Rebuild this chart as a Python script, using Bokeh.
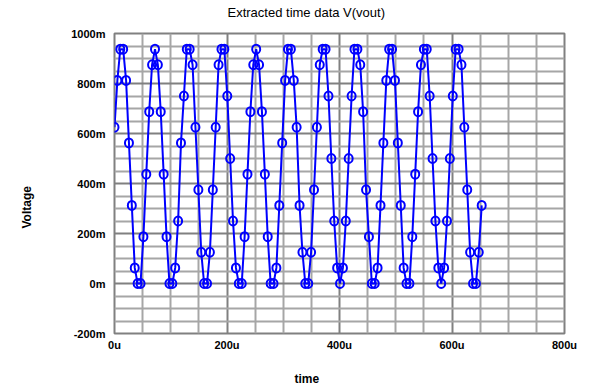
from bokeh.plotting import figure
from bokeh.models import Range1d, FixedTicker, Title
from bokeh.embed import file_html
from bokeh.resources import INLINE

# time in microseconds
time_us = [0.0, 5.1, 10.3, 15.4, 20.6, 25.7, 30.8, 36.0, 41.1, 46.3,
           51.4, 56.5, 61.7, 66.8, 72.0, 77.1, 82.2, 87.4, 92.5, 97.7,
           102.8, 107.9, 113.1, 118.2, 123.4, 128.5, 133.6, 138.8, 143.9, 149.1,
           154.2, 159.3, 164.5, 169.6, 174.8, 179.9, 185.0, 190.2, 195.3, 200.5,
           205.6, 210.7, 215.9, 221.0, 226.2, 231.3, 236.4, 241.6, 246.7, 251.9,
           257.0, 262.1, 267.3, 272.4, 277.6, 282.7, 287.8, 293.0, 298.1, 303.3,
           308.4, 313.5, 318.7, 323.8, 329.0, 334.1, 339.2, 344.4, 349.5, 354.7,
           359.8, 364.9, 370.1, 375.2, 380.4, 385.5, 390.6, 395.8, 400.9, 406.1,
           411.2, 416.3, 421.5, 426.6, 431.8, 436.9, 442.0, 447.2, 452.3, 457.5,
           462.6, 467.7, 472.9, 478.0, 483.2, 488.3, 493.4, 498.6, 503.7, 508.9,
           514.0, 519.1, 524.3, 529.4, 534.6, 539.7, 544.8, 550.0, 555.1, 560.3,
           565.4, 570.5, 575.7, 580.8, 586.0, 591.1, 596.2, 601.4, 606.5, 611.7,
           616.8, 621.9, 627.1, 632.2, 637.4, 642.5, 647.6, 652.8]

# voltage in millivolts
vout_mv = [625, 812.5, 937.5, 937.5, 812.5, 562.5, 312.5, 62.5, 0, 0,
           187.5, 437.5, 687.5, 875, 937.5, 875, 687.5, 437.5, 187.5, 0,
           0, 62.5, 250, 562.5, 750, 937.5, 937.5, 875, 625, 375,
           125, 0, 0, 125, 375, 625, 875, 937.5, 937.5, 750,
           500, 250, 62.5, 0,
           0, 187.5, 437.5, 687.5, 875, 937.5, 875, 687.5, 437.5, 187.5,
           0, 0, 62.5, 312.5, 562.5, 812.5, 937.5, 937.5, 812.5, 625,
           312.5, 125, 0, 0, 125, 375, 625, 875, 937.5, 937.5,
           750, 500, 250, 62.5, 0, 62.5, 250, 500, 750, 937.5,
           937.5, 875, 687.5, 375, 187.5, 0, 0, 62.5, 312.5, 562.5,
           812.5, 937.5, 937.5, 812.5, 562.5, 312.5, 62.5, 0, 0, 187.5,
           437.5, 687.5, 875, 937.5, 937.5, 750, 500, 250, 62.5, 0,
           62.5, 250, 500, 750, 937.5, 937.5, 875, 625, 375, 125,
           0, 0, 125, 312.5]

x_ticks = [0, 200, 400, 600, 800]
x_tick_labels = ["0u", "200u", "400u", "600u", "800u"]
x_minor = [50, 100, 150, 250, 300, 350, 450, 500, 550, 650, 700, 750]
y_ticks = [-200, 0, 200, 400, 600, 800, 1000]
y_tick_labels = ["-200m", "0m", "200m", "400m", "600m", "800m", "1000m"]
y_minor = [-150, -100, -50, 50, 100, 150, 250, 300, 350, 450, 500, 550,
           650, 700, 750, 850, 900, 950]

FONT = "Liberation Sans"
BLUE = "#0000ff"

p = figure(width=584, height=392, output_backend="svg", toolbar_location=None,
           title=None,
           x_range=Range1d(0, 800), y_range=Range1d(-200, 1000),
           min_border_left=114, min_border_right=20, min_border_top=33,
           min_border_bottom=59)
p.outline_line_color = "#808080"
p.outline_line_width = 2

xt = FixedTicker(ticks=x_ticks, minor_ticks=x_minor)
yt = FixedTicker(ticks=y_ticks, minor_ticks=y_minor)
p.xaxis.ticker = xt
p.yaxis.ticker = yt
p.xgrid.ticker = xt
p.ygrid.ticker = yt
for g in (p.xgrid, p.ygrid):
    g.grid_line_color = "#808080"
    g.grid_line_width = 2
    g.minor_grid_line_color = "#a6a6a6"
    g.minor_grid_line_width = 2

p.xaxis.major_label_overrides = dict(zip(x_ticks, x_tick_labels))
p.yaxis.major_label_overrides = dict(zip(y_ticks, y_tick_labels))
for ax in (p.xaxis, p.yaxis):
    ax.axis_line_color = None
    ax.major_tick_line_color = None
    ax.minor_tick_line_color = None
    ax.major_tick_out = 0
    ax.major_tick_in = 0
    ax.minor_tick_out = 0
    ax.minor_tick_in = 0
    ax.major_label_text_font = FONT
    ax.major_label_text_font_style = "bold"
    ax.major_label_text_font_size = "11px"
    ax.major_label_text_color = "#000000"
p.yaxis.major_label_standoff = 9
p.xaxis.major_label_standoff = 5

p.line(time_us, vout_mv, line_color=BLUE, line_width=2)
p.ellipse(x=time_us, y=vout_mv, width=8, height=9, width_units="screen",
          height_units="screen", fill_color=None, line_color=BLUE, line_width=2)


def spacer(gap):
    return Title(text=" ", text_font_size="1px", standoff=gap)


# above: spacer next to the frame, then the title
p.add_layout(spacer(9), "above")
p.add_layout(Title(text="Extracted time data V(vout)", align="left", offset=113,
                   standoff=0, vertical_align="top", text_font=FONT,
                   text_font_size="13px", text_font_style="normal",
                   text_color="#000000"), "above")

# left: spacer next to the axis, then the axis label
p.add_layout(spacer(30), "left")
p.add_layout(Title(text="Voltage", align="left", offset=105, standoff=0,
                   vertical_align="top", text_font=FONT,
                   text_font_size="12px", text_font_style="bold",
                   text_color="#000000"), "left")

# below: spacer next to the axis, then the axis label
p.add_layout(spacer(15), "below")
p.add_layout(Title(text="time", align="left", offset=180, standoff=0,
                   vertical_align="top", text_font=FONT,
                   text_font_size="12px", text_font_style="bold",
                   text_color="#000000"), "below")

open("out.html", "w").write(file_html(p, INLINE))
